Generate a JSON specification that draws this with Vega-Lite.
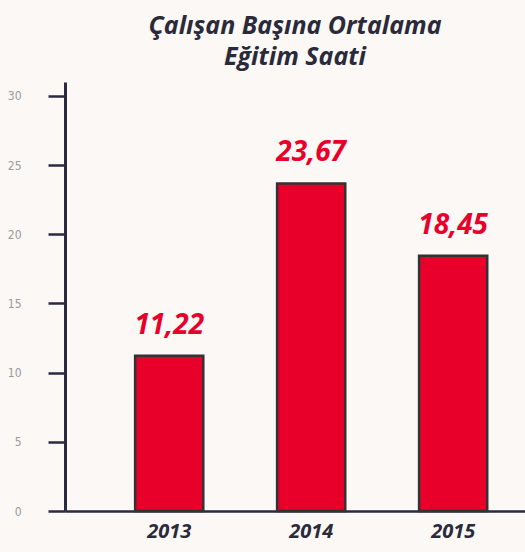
{
  "$schema": "https://vega.github.io/schema/vega-lite/v6.json",
  "width": 460,
  "height": 429,
  "autosize": {"type": "none"},
  "padding": {"left": 65, "top": 82, "right": 0, "bottom": 41},
  "background": "#fbf8f6",
  "title": {
    "text": ["Çalışan Başına Ortalama", "Eğitim Saati"],
    "anchor": "middle",
    "frame": "group",
    "font": "Open Sans",
    "fontSize": 25,
    "fontWeight": "bold",
    "fontStyle": "italic",
    "color": "#2a2a3a",
    "lineHeight": 31,
    "offset": 12
  },
  "data": {
    "values": [
      {"year": "2013", "value": 11.22, "label": "11,22"},
      {"year": "2014", "value": 23.67, "label": "23,67"},
      {"year": "2015", "value": 18.45, "label": "18,45"}
    ]
  },
  "config": {"view": {"stroke": null}},
  "encoding": {
    "x": {
      "field": "year",
      "type": "nominal",
      "scale": {"paddingInner": 0.52, "paddingOuter": 0.38, "align": 0.65},
      "axis": {
        "title": null,
        "labelAngle": 0,
        "ticks": false,
        "domainColor": "#2a2a40",
        "domainWidth": 2.5,
        "labelFont": "Open Sans",
        "labelFontSize": 20,
        "labelFontWeight": "bold",
        "labelFontStyle": "italic",
        "labelColor": "#2a2a3a",
        "labelPadding": 10
      }
    },
    "y": {
      "field": "value",
      "type": "quantitative",
      "scale": {"domain": [0, 31], "nice": false},
      "axis": {
        "title": null,
        "values": [0, 5, 10, 15, 20, 25, 30],
        "grid": false,
        "domainColor": "#2a2a40",
        "domainWidth": 3,
        "tickColor": "#2a2a40",
        "tickWidth": 2.5,
        "tickSize": 17,
        "labelFont": "DejaVu Sans Condensed, Roboto, sans-serif",
        "labelFontSize": 12,
        "labelColor": "#9a9a9a",
        "labelPadding": 27
      }
    }
  },
  "layer": [
    {
      "mark": {"type": "bar", "color": "#e8002b", "stroke": "#333336", "strokeWidth": 2.5}
    },
    {
      "mark": {
        "type": "text",
        "baseline": "alphabetic",
        "dy": -22,
        "font": "Open Sans",
        "fontSize": 28,
        "fontWeight": "bold",
        "fontStyle": "italic",
        "color": "#e8002b"
      },
      "encoding": {"text": {"field": "label"}}
    }
  ]
}
